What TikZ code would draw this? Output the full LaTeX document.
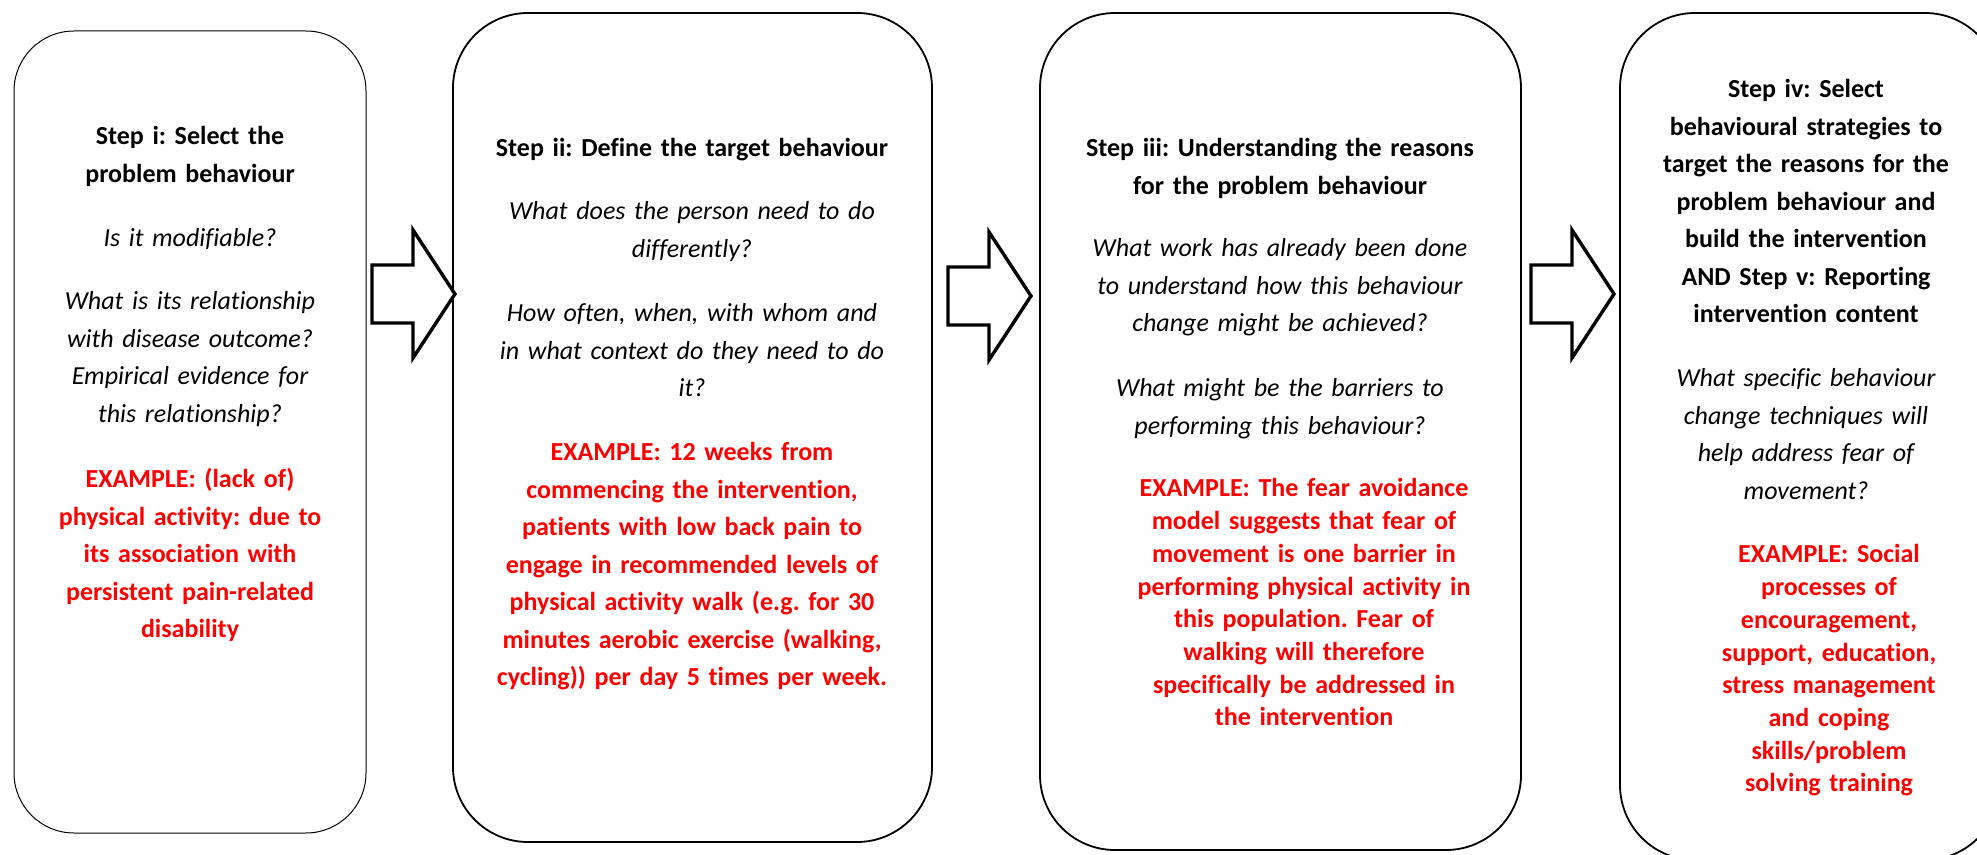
\documentclass[tikz,border=0pt]{standalone}
\usepackage{fontspec}
\setmainfont{Carlito}[Ligatures=NoCommon]
\usepackage{xcolor}
\definecolor{exred}{HTML}{FF0000}
\frenchspacing
\begin{document}
\begin{tikzpicture}[x=0.5pt, y=-0.5pt,
		stepbox/.style={line width=0.9pt, rounded corners=37.5pt},
		blockarrow/.style={line width=1.7pt, fill=white, line join=miter},
		txt/.style={anchor=base, inner sep=0pt, text width=250pt, align=center, font=\fontsize{13}{18.75}\selectfont},
		head/.style={txt, font=\fontsize{13}{18.75}\selectfont\bfseries},
		ask/.style={txt, font=\fontsize{13}{18.75}\selectfont\itshape},
		eg/.style={txt, text=exred, font=\fontsize{13}{18.75}\selectfont\bfseries},
		egtight/.style={eg, font=\fontsize{13}{16.35}\selectfont\bfseries}]
		\useasboundingbox (0,0) rectangle (1977,855);
		\clip (0,0) rectangle (1977,855);
		\draw[stepbox, line width=0.5pt, rounded corners=30pt] (14,31) rectangle (366,833);
		\foreach \xa/\xb/\yb in {453/932/842, 1040/1521/850, 1620/2000/860}{
			\draw[stepbox] (\xa,13) rectangle (\xb,\yb);
		}
		\foreach \x/\y in {372/294, 948/296, 1531/294}{
			\draw[blockarrow] (\x,\y-29) -- ++(41,0) -- ++(0,-35) -- (\x+83,\y) -- (\x+41,\y+64) -- ++(0,-35) -- (\x,\y+29) -- cycle;
		}
		\node[head] (st1) at (190,145) {Step i: Select the\\problem behaviour};
		\node[ask] (qa1) at (190,247) {Is it modifiable?};
		\node[ask] (qb1) at (190,310) {What is its relationship\\with disease outcome?\\Empirical evidence for\\this relationship?};
		\node[eg] (eg1) at (190,488) {EXAMPLE: (lack of)\\physical activity: due to\\its association with\\persistent pain-related\\disability};
		\node[head] (st2) at (692,157) {Step ii: Define the target behaviour};
		\node[ask] (qa2) at (692,220) {What does the person need to do\\differently?};
		\node[ask] (qb2) at (692,322) {How often, when, with whom and\\in what context do they need to do\\it?};
		\node[eg] (eg2) at (692,461) {EXAMPLE: 12 weeks from\\commencing the intervention,\\patients with low back pain to\\engage in recommended levels of\\physical activity walk (e.g. for 30\\minutes aerobic exercise (walking,\\cycling)) per day 5 times per week.};
		\node[head] (st3) at (1280,157) {Step iii: Understanding the reasons\\for the problem behaviour};
		\node[ask] (qa3) at (1280,257) {What work has already been done\\to understand how this behaviour\\change might be achieved?};
		\node[ask] (qb3) at (1280,397) {What might be the barriers to\\performing this behaviour?};
		\node[egtight] (eg3) at (1304,497) {EXAMPLE: The fear avoidance\\model suggests that fear of\\movement is one barrier in\\performing physical activity in\\this population. Fear of\\walking will therefore\\specifically be addressed in\\the intervention};
		\node[head] (st4) at (1806,98) {Step iv: Select\\behavioural strategies to\\target the reasons for the\\problem behaviour and\\build the intervention\\AND Step v: Reporting\\intervention content};
		\node[ask] (qa4) at (1806,387) {What specific behaviour\\change techniques will\\help address fear of\\movement?};
		\node[egtight] (eg4) at (1829,563) {EXAMPLE: Social\\processes of\\encouragement,\\support, education,\\stress management\\and coping\\skills/problem\\solving training};
	\end{tikzpicture}
\end{document}
